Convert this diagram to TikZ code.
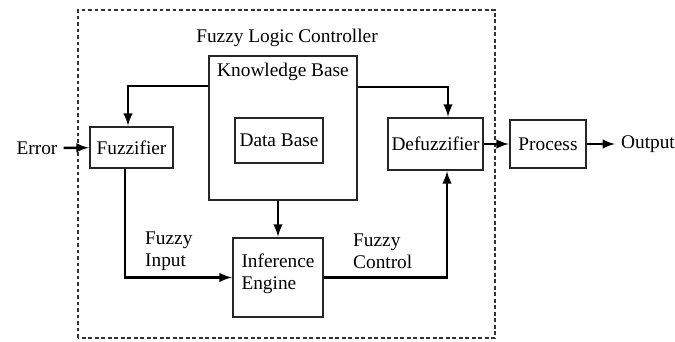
\documentclass[tikz,border=0pt]{standalone}
\usepackage{fontspec}
\setmainfont{Liberation Serif}
\usepackage{tikz}
\usetikzlibrary{arrows,shapes,positioning}

\begin{document}
\begin{tikzpicture}[font=\fontsize{11}{12.5}\selectfont]
  \tikzstyle{block} = [rectangle, draw=black!85, line width=1.4pt, fill=white,
  text centered, inner sep=2pt]
  \tikzstyle{line} = [line width=1.4pt, draw, -latex]
  \tikzstyle{frame} = [line width=1.4pt, draw=black!80, dash pattern=on 2.2pt off 1.5pt]
\useasboundingbox (0,0) rectangle (13.5,6.84);
\draw [frame] (1.56,0.08) rectangle (9.90,6.64);
\node (title) at (5.74,6.08) {Fuzzy Logic Controller};
\node [block, minimum width=2.96cm, minimum height=2.88cm,
  label={[below=1pt]north:Knowledge Base}] (kb) at (5.66,4.28) {};
\node [block, minimum width=1.76cm, minimum height=0.9cm] (db) at (5.58,4.03) {Data Base};
\node [block, minimum width=1.66cm, minimum height=0.82cm] (fuzz) at (2.63,3.89) {Fuzzifier};
\node [block, minimum width=1.9cm, minimum height=1.04cm] (defuzz) at (8.71,3.96) {Defuzzifier};
\node [block, minimum width=1.52cm, minimum height=0.96cm] (proc) at (10.96,3.96) {Process};
\node [block, minimum width=1.8cm, minimum height=1.58cm, align=left] (ie) at (5.56,1.29) {Inference\\Engine\\[-6pt]};
\node (err) at (0.74,3.88) {Error};
\node (out) at (12.96,3.96) {Output};
\node [anchor=west, align=left] (fin) at (2.78,1.82) {Fuzzy\\Input};
\node [anchor=west, align=left] (fctl) at (6.94,1.82) {Fuzzy\\Control};
\path [line] (err) -- (fuzz);
\path [line] ([yshift=0.84cm]kb.west) -| ([xshift=-0.07cm]fuzz.north);
\path [line] ([yshift=0.82cm]kb.east) -| ([xshift=0.25cm]defuzz.north);
\path [line] (kb.south -| ie.north) -- (ie.north);
\path [line] ([xshift=-0.13cm]fuzz.south) |- (ie.west);
\path [line] (ie.east) -| ([xshift=0.23cm]defuzz.south);
\path [line] (defuzz) -- (proc);
\path [line] (proc) -- (out);
\end{tikzpicture}
\end{document}
